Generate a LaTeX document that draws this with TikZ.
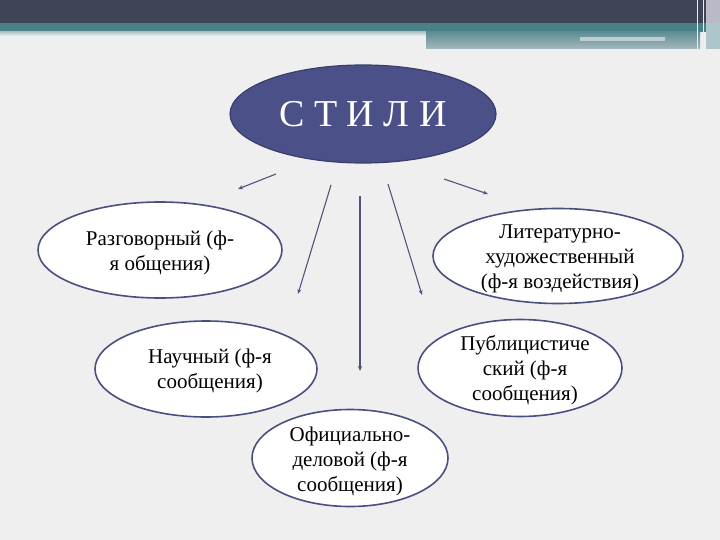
\documentclass[tikz,border=0pt]{standalone}
\usepackage{fontspec}
\setmainfont{Liberation Serif}
\usetikzlibrary{shapes.geometric,arrows.meta}
\definecolor{bg}{HTML}{EFEFEF}
\definecolor{topdark}{HTML}{3F4555}
\definecolor{teal}{HTML}{4A8189}
\definecolor{boxgray}{HTML}{A3B8BC}
\definecolor{boxtop}{HTML}{5F8E95}
\definecolor{mainfill}{HTML}{4B5088}
\definecolor{mainedge}{HTML}{3A3E6E}
\definecolor{edge}{HTML}{4B4F80}
\definecolor{arr}{HTML}{50547E}
\definecolor{lav}{HTML}{B9B9C8}
\tikzset{
  bubble/.style={ellipse, draw=edge, line width=1.6pt, fill=white, inner sep=0pt},
  btext/.style={align=center, font=\fontsize{21}{25}\selectfont},
  conn/.style={draw=arr, line width=1.1pt, -{Stealth[length=5pt,width=4pt]}},
}
\begin{document}
\begin{tikzpicture}[x=1pt,y=-1pt]
\useasboundingbox (0,0) rectangle (720,540);
\fill[bg] (0,0) rectangle (720,540);
% top bands
\fill[topdark] (0,0) rectangle (720,23);
\fill[teal] (0,23) rectangle (720,32);
\shade[top color=boxgray!80!white, bottom color=white!95!boxgray] (0,32) rectangle (428,37);
\shade[top color=boxtop, bottom color=boxgray] (426,32) rectangle (700,49);
\fill[boxgray!70!white] (580,37) rectangle (665,41);
\fill[lav] (706,0) rectangle (720,23);
\fill[teal!45!white] (706,23) rectangle (720,49);
\draw[white!75!boxgray, line width=0.8pt] (697,0) -- (697,49);
\draw[white!75!boxgray, line width=0.8pt] (703,0) -- (703,49);
% main ellipse
\node[ellipse, fill=mainfill, draw=mainedge, line width=1.2pt, minimum width=266pt, minimum height=98pt,
  text=white, font=\fontsize{38}{40}\selectfont] (main) at (363,114) {С Т И Л И};
% bubbles
\node[bubble, minimum width=244pt, minimum height=96pt] (razg) at (160,250) {};
\node[btext] (razgt) at (160,253) {Разговорный (ф-\\я общения)};
\node[bubble, minimum width=250pt, minimum height=95pt] (lit) at (558,256) {};
\node[btext] (litt) at (560,259) {Литературно-\\художественный\\(ф-я воздействия)};
\node[bubble, minimum width=222pt, minimum height=96pt] (nauch) at (206,369) {};
\node[btext] (naucht) at (210,371) {Научный (ф-я\\сообщения)};
\node[bubble, minimum width=204pt, minimum height=97pt] (pub) at (520,368) {};
\node[btext] (pubt) at (525,370) {Публицистиче\\ский (ф-я\\сообщения)};
\node[bubble, minimum width=196pt, minimum height=97pt] (ofic) at (350,458) {};
\node[btext] (ofict) at (350,461) {Официально-\\деловой (ф-я\\сообщения)};
% connectors
\coordinate (a1s) at (276,174); \coordinate (a1e) at (238,189);
\coordinate (a2s) at (331,185); \coordinate (a2e) at (298,294);
\coordinate (a3s) at (360,196); \coordinate (a3e) at (360,371);
\coordinate (a4s) at (388,184); \coordinate (a4e) at (422,295);
\coordinate (a5s) at (444,179); \coordinate (a5e) at (488,194);
\draw[conn] (a1s) -- (a1e);
\draw[conn] (a2s) -- (a2e);
\draw[conn] (a3s) -- (a3e);
\draw[conn] (a4s) -- (a4e);
\draw[conn] (a5s) -- (a5e);
\end{tikzpicture}
\end{document}
